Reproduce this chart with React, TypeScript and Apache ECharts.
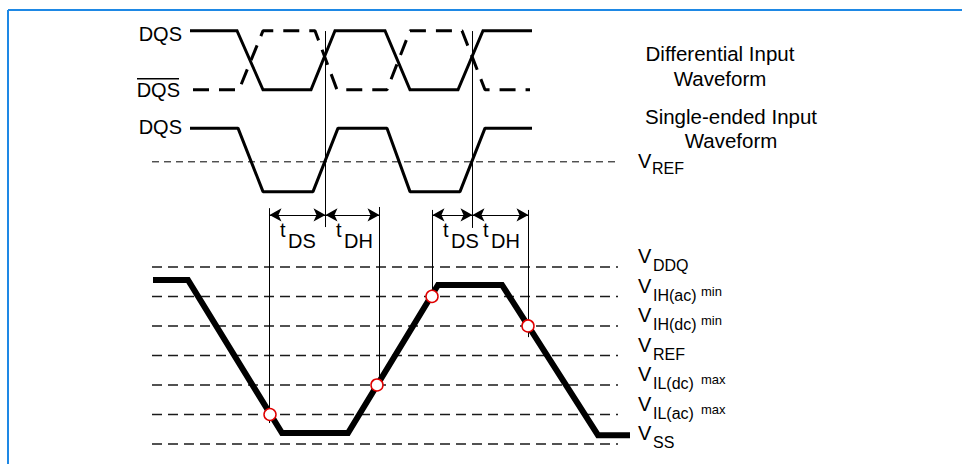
import React, { useEffect, useRef } from "react";
import * as echarts from "echarts";

// ---- data (x: time units, 5 px each; y: level units, VSS = 0 ... VDDQ = 6) ----
const dqsTimes = [8, 17.4, 22.6, 32.2, 37, 47, 52, 61.6, 66.6, 76.4];
const dqsDiffLevels = [14, 14, 12, 12, 14, 14, 12, 12, 14, 14];
const dqsBarTimes = [8.6, 17.8, 22.6, 33, 37.4, 47.4, 52, 62.4, 67, 76];
const dqsBarLevels = [12, 12, 14, 14, 12, 12, 14, 14, 12, 12];
const dqsSeTimes = [8, 17.6, 22.6, 32.6, 37.6, 47.4, 52, 62, 67, 76.4];
const dqsSeLevels = [10.7, 10.7, 8.55, 8.55, 10.7, 10.7, 8.55, 8.55, 10.7, 10.7];
const vrefTopLevel = 9.56;
const vrefTopSpan = [0.4, 93];

const dqTimes = [0.6, 7.6, 26.4, 39.6, 57.6, 70.4, 89.6, 96];
const dqLevels = [5.56, 5.56, 0.37, 0.37, 5.39, 5.39, 0.3, 0.3];

const levelMain = ["V", "V", "V", "V", "V", "V", "V"];
const levelSub = ["SS", "IL(ac)", "IL(dc)", "REF", "IH(dc)", "IH(ac)", "DDQ"];
const levelSup = ["", "max", "max", "", "min", "min", ""];
const levelValues = [0, 1, 2, 3, 4, 5, 6];
const levelSpan = [0.4, 93.6];

const strobeEdges = [35.1, 64.5];
const strobeTop = [13.99, 13.99];
const strobeBottom = [7.35, 7.32];
const windowTimes = [23.9, 45.9, 56.5, 75.7];
const windowTop = [7.99, 8.03, 7.93, 7.93];
const windowBottom = [0.71, 2.17, 4.88, 3.62];
const arrowLevel = 7.76;
const arrowSpans = [
  [23.9, 35.1],
  [35.1, 45.9],
  [56.5, 64.5],
  [64.5, 75.7],
];
const timingNames = ["DS", "DH", "DS", "DH"];
const checkPoints = [
  [24, 1],
  [45.4, 2],
  [56.4, 5],
  [75.6, 4],
];

const FONT = "'Liberation Sans', Arial, Helvetica, sans-serif";
const INK = "#000";

export default function App() {
  const ref = useRef<HTMLDivElement>(null);

  useEffect(() => {
    if (!ref.current) return;
    const chart = echarts.init(ref.current, null, { renderer: "svg" });

    const zip = (xs: number[], ys: number[]) => xs.map((x, i) => [x, ys[i]]);
    const series: any[] = [];

    series.push({
      type: "line",
      data: zip(dqsTimes, dqsDiffLevels),
      showSymbol: false,
      clip: false,
      lineStyle: { color: INK, width: 3, join: "miter" },
    });
    series.push({
      type: "line",
      data: zip(dqsBarTimes, dqsBarLevels),
      showSymbol: false,
      clip: false,
      lineStyle: { color: INK, width: 3, type: [16, 10] },
    });
    series.push({
      type: "line",
      data: zip(dqsSeTimes, dqsSeLevels),
      showSymbol: false,
      clip: false,
      lineStyle: { color: INK, width: 3 },
    });
    series.push({
      type: "line",
      data: [
        [vrefTopSpan[0], vrefTopLevel],
        [vrefTopSpan[1], vrefTopLevel],
      ],
      showSymbol: false,
      clip: false,
      lineStyle: { color: INK, width: 1, type: [7, 5] },
    });
    levelValues.forEach((v) => {
      series.push({
        type: "line",
        data: [
          [levelSpan[0], v],
          [levelSpan[1], v],
        ],
        showSymbol: false,
        clip: false,
        lineStyle: { color: "#1a1a1a", width: 1.5, type: [10, 6] },
      });
    });
    strobeEdges.forEach((t, i) => {
      series.push({
        type: "line",
        data: [
          [t, strobeTop[i]],
          [t, strobeBottom[i]],
        ],
        showSymbol: false,
        clip: false,
        lineStyle: { color: INK, width: 1 },
      });
    });
    windowTimes.forEach((t, i) => {
      series.push({
        type: "line",
        data: [
          [t, windowTop[i]],
          [t, windowBottom[i]],
        ],
        showSymbol: false,
        clip: false,
        lineStyle: { color: INK, width: 1 },
      });
    });
    series.push({
      type: "line",
      data: zip(dqTimes, dqLevels),
      showSymbol: false,
      clip: false,
      lineStyle: { color: INK, width: 6, join: "miter" },
    });
    series.push({
      type: "line",
      data: [],
      markLine: {
        silent: true,
        symbol: ["arrow", "arrow"],
        symbolSize: [10, 12],
        label: { show: false },
        lineStyle: { color: INK, width: 1, type: "solid" },
        itemStyle: { color: INK },
        data: arrowSpans.map(([a, b]) => [
          { coord: [a, arrowLevel] },
          { coord: [b, arrowLevel] },
        ]),
      },
    });
    series.push({
      type: "scatter",
      data: checkPoints,
      symbol: "circle",
      symbolSize: 12,
      clip: false,
      itemStyle: {
        color: "#fff",
        borderColor: "#e00000",
        borderWidth: 1.5,
        opacity: 1,
      },
      z: 5,
    });

    chart.setOption({
      animation: false,
      grid: { left: 150, top: 16, width: 480, height: 428 },
      xAxis: { type: "value", min: 0, max: 96, show: false },
      yAxis: { type: "value", min: 0, max: 14.5, show: false },
      series,
    });

    const px = (t: number, v: number) =>
      chart.convertToPixel({ gridIndex: 0 }, [t, v]) as number[];

    const txt = (
      text: string,
      x: number,
      y: number,
      size: number,
      align: string = "left"
    ) => ({
      type: "text",
      x,
      y,
      style: {
        text,
        fill: INK,
        font: `${size}px ${FONT}`,
        textAlign: align,
        textVerticalAlign: "middle",
      },
      silent: true,
    });

    const g: any[] = [];
    // frame
    g.push({
      type: "line",
      shape: { x1: 8, y1: 10, x2: 962, y2: 10 },
      style: { stroke: "#1e88e5", lineWidth: 2 },
    });
    g.push({
      type: "line",
      shape: { x1: 8, y1: 10, x2: 8, y2: 464 },
      style: { stroke: "#1e88e5", lineWidth: 2 },
    });

    // signal names
    const startX = px(dqsTimes[0], 0)[0];
    g.push(txt("DQS", startX - 8, px(0, dqsDiffLevels[0])[1] + 3, 20, "right"));
    const barY = px(0, dqsBarLevels[0])[1];
    g.push(txt("DQS", startX - 10, barY + 0.5, 20, "right"));
    g.push({
      type: "line",
      shape: { x1: 137, y1: barY - 11, x2: 179, y2: barY - 11 },
      style: { stroke: INK, lineWidth: 1.5 },
    });
    g.push(txt("DQS", startX - 8, px(0, dqsSeLevels[0])[1] - 1, 20, "right"));

    // descriptions
    g.push(txt("Differential Input", 720, 53, 20.5, "center"));
    g.push(txt("Waveform", 720, 78, 20.5, "center"));
    g.push(txt("Single-ended Input", 731, 116, 20.5, "center"));
    g.push(txt("Waveform", 731, 140.5, 20.5, "center"));

    // top VREF label
    const vrY = px(0, vrefTopLevel)[1];
    g.push(txt("V", 638, vrY - 1, 20));
    g.push(txt("REF", 652, vrY + 6.5, 16));

    // level labels
    levelValues.forEach((v, i) => {
      const L = px(0, v)[1];
      g.push(txt(levelMain[i], 638, L - 10.8, 20));
      g.push(txt(levelSub[i], 653, L - 1.4, 16));
      if (levelSup[i]) g.push(txt(levelSup[i], 701, L - 5.3, 13));
    });

    // timing labels
    arrowSpans.forEach(([a], i) => {
      const p = px(a, arrowLevel);
      const x0 = p[0] + 10.5;
      g.push(txt("t", x0, p[1] + 15, 20));
      g.push(txt(timingNames[i], x0 + 8, p[1] + 26, 20));
    });

    chart.setOption({ graphic: g });

    return () => chart.dispose();
  }, []);

  return (
    <div
      ref={ref}
      style={{
        position: "fixed",
        left: 0,
        top: 0,
        width: 962,
        height: 464,
        background: "#fff",
      }}
    />
  );
}
